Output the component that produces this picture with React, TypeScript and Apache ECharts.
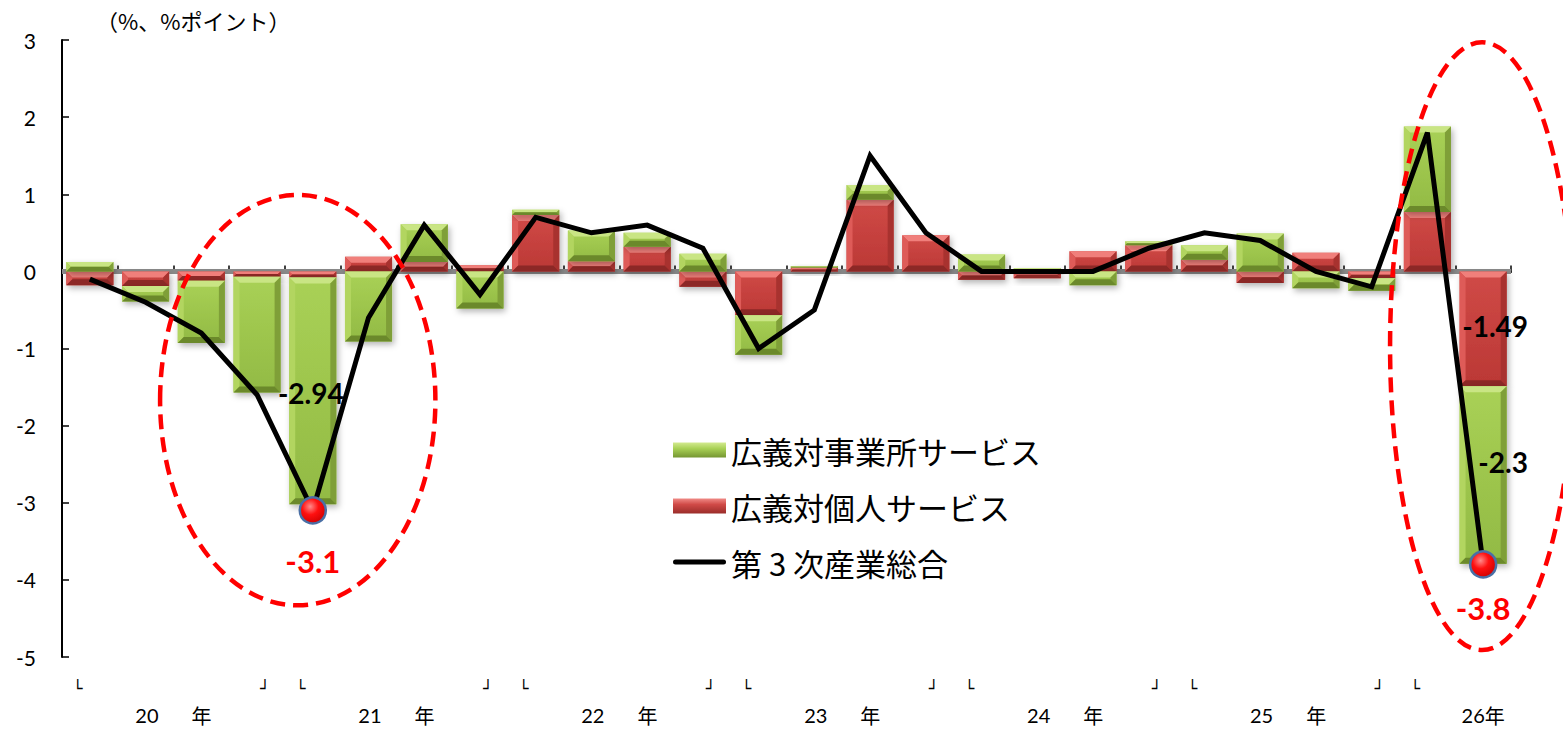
import React, { useEffect, useRef } from "react";
import * as echarts from "echarts";

// ---- data ----
const categories = [
  "20年1-3月", "20年4-6月", "20年7-9月", "20年10-12月",
  "21年1-3月", "21年4-6月", "21年7-9月", "21年10-12月",
  "22年1-3月", "22年4-6月", "22年7-9月", "22年10-12月",
  "23年1-3月", "23年4-6月", "23年7-9月", "23年10-12月",
  "24年1-3月", "24年4-6月", "24年7-9月", "24年10-12月",
  "25年1-3月", "25年4-6月", "25年7-9月", "25年10-12月",
  "26年1-3月", "26年4-6月",
];
const businessServices = [
  0.12, -0.2, -0.81, -1.5, -2.94, -0.91, 0.49, -0.48, 0.07, 0.4, 0.18, 0.23, -0.51,
  0.02, 0.19, 0.0, 0.22, 0.04, -0.18, 0.05, 0.19, 0.49, -0.22, -0.16, 1.11, -2.3,
];
const personalServices = [
  -0.18, -0.19, -0.12, -0.07, -0.08, 0.19, 0.12, 0.08, 0.73, 0.13, 0.32, -0.2, -0.57,
  0.05, 0.93, 0.47, -0.11, -0.09, 0.26, 0.34, 0.15, -0.15, 0.24, -0.09, 0.77, -1.49,
];
const tertiaryTotal = [
  -0.1, -0.4, -0.8, -1.6, -3.1, -0.6, 0.6, -0.3, 0.7, 0.5, 0.6, 0.3, -1.0,
  -0.5, 1.5, 0.5, 0.0, 0.0, 0.0, 0.3, 0.5, 0.4, 0.0, -0.2, 1.8, -3.8,
];
const seriesNames = ["広義対事業所サービス", "広義対個人サービス", "第 3 次産業総合"];
const yTicks = { min: -5, max: 3, interval: 1 };
const unitLabel = "（%、%ポイント）";
// labelled points
const businessLabelIdx = [4, 25];
const personalLabelIdx = [25];
const totalLabelIdx = [4, 25];
// annotation ellipses in data units (x on 0..26 scale)
const ellipses = [
  { cx: 4.23, cy: -1.67, rx: 2.47, ry: 2.66 },
  { cx: 25.48, cy: -0.97, rx: 1.65, ry: 3.94 },
];

const FONT = "Lato, 'Noto Sans CJK JP', sans-serif";
const CJK = "'Noto Sans CJK JP', Lato, sans-serif";

const greenPal = {
  top: "#c9e584", left: "#b2d560", right: "#7f9f38", bottom: "#6b892b",
  mainTop: "#a9d156", mainBottom: "#92ba44",
};
const redPal = {
  top: "#f07f7b", left: "#de5b58", right: "#a8322f", bottom: "#8c2826",
  mainTop: "#d04a47", mainBottom: "#bb3835",
};

const labelOffsets: Record<string, [number, number]> = {
  "g4": [-2, 2],
  "g25": [20, -13],
  "r25": [12, -3],
};

function makeRender(pal: any, labelIdx: number[], key: string) {
  return (params: any, api: any) => {
    const i = api.value(0);
    const v = api.value(1);
    const base = api.value(2);
    if (!v) return null;
    const a = api.coord([i, base]);
    const b = api.coord([i, base + v]);
    const bw = api.size([1, 0])[0] * 0.845;
    const x = a[0] - bw / 2;
    const y = Math.min(a[1], b[1]);
    const h = Math.abs(a[1] - b[1]);
    const e = Math.min(6, h / 2, bw / 2);
    const children: any[] = [
      {
        type: "rect",
        shape: { x, y, width: bw, height: h },
        style: {
          fill: new echarts.graphic.LinearGradient(0, 0, 0, 1, [
            { offset: 0, color: pal.mainTop },
            { offset: 1, color: pal.mainBottom },
          ]),
          shadowBlur: 6,
          shadowOffsetX: 2,
          shadowOffsetY: 3,
          shadowColor: "rgba(0,0,0,0.3)",
        },
      },
      { type: "polygon", shape: { points: [[x, y], [x + bw, y], [x + bw - e, y + e], [x + e, y + e]] }, style: { fill: pal.top } },
      { type: "polygon", shape: { points: [[x, y], [x + e, y + e], [x + e, y + h - e], [x, y + h]] }, style: { fill: pal.left } },
      { type: "polygon", shape: { points: [[x + bw, y], [x + bw, y + h], [x + bw - e, y + h - e], [x + bw - e, y + e]] }, style: { fill: pal.right } },
      { type: "polygon", shape: { points: [[x, y + h], [x + e, y + h - e], [x + bw - e, y + h - e], [x + bw, y + h]] }, style: { fill: pal.bottom } },
    ];
    if (labelIdx.includes(i)) {
      const off = labelOffsets[key + i] || [0, 0];
      children.push({
        type: "text",
        x: a[0] + off[0],
        y: (a[1] + b[1]) / 2 + off[1],
        z2: 50,
        style: {
          text: String(v),
          fill: "#000",
          fontSize: 28,
          fontWeight: "bold",
          fontFamily: FONT,
          align: "center",
          verticalAlign: "middle",
        },
      });
    }
    return { type: "group", children };
  };
}

export default function App() {
  const ref = useRef<HTMLDivElement>(null);

  useEffect(() => {
    if (!ref.current) return;
    const chart = echarts.init(ref.current, null, { renderer: "svg" });

    const personalData = personalServices.map((v, i) => [i, v, 0]);
    const businessData = businessServices.map((v, i) => {
      const r = personalServices[i];
      const base = (v >= 0 && r >= 0) || (v < 0 && r < 0) ? r : 0;
      return [i, v, base];
    });

    // year labels for the secondary value axis (0..N)
    const yearGroups: { year: string; first: number; last: number }[] = [];
    categories.forEach((c, i) => {
      const yr = c.split("年")[0];
      const g = yearGroups.find((q) => q.year === yr);
      if (g) g.last = i;
      else yearGroups.push({ year: yr, first: i, last: i });
    });
    const yearAt = yearGroups.map((g) => {
      const full = g.last - g.first + 1 === 4;
      return {
        pos: full ? (g.first + g.last + 1) / 2 : g.last + 0.5,
        text: full ? `{n|${g.year}}{y|年}` : `{n|${g.year}}{y0|年}`,
      };
    });

    const lineData = tertiaryTotal.map((v, i) => {
      if (!totalLabelIdx.includes(i)) return v;
      return {
        value: v,
        symbol: "circle",
        symbolSize: 26,
        itemStyle: {
          color: new echarts.graphic.RadialGradient(0.4, 0.35, 0.7, [
            { offset: 0, color: "#ff8a8a" },
            { offset: 0.45, color: "#ff1010" },
            { offset: 1, color: "#cc0000" },
          ]),
          borderColor: "#4a6fa5",
          borderWidth: 2.5,
        },
        label: {
          show: true,
          position: "bottom",
          distance: i === 4 ? 21 : 14,
          formatter: "{c}",
          color: "#ff0000",
          fontSize: 31,
          fontWeight: "bold",
          fontFamily: FONT,
        },
      };
    });

    const option: any = {
      animation: false,
      backgroundColor: "#ffffff",
      title: {
        text: unitLabel,
        left: 96,
        top: 9,
        padding: 0,
        textStyle: { fontSize: 22, fontWeight: "normal", color: "#000", fontFamily: CJK },
      },
      legend: {
        orient: "vertical",
        left: 673,
        top: 432,
        padding: 0,
        itemWidth: 53,
        itemHeight: 15,
        itemGap: 20,
        selectedMode: false,
        textStyle: { fontSize: 31, lineHeight: 36, color: "#000", fontFamily: CJK },
        data: [
          { name: seriesNames[0], icon: "rect" },
          { name: seriesNames[1], icon: "rect" },
          {
            name: seriesNames[2],
            icon: "path://M2.5,0 H50.5 A2.5,2.5 0 0 1 50.5,5 H2.5 A2.5,2.5 0 0 1 2.5,0 Z",
            itemStyle: { color: "#000", borderWidth: 0 },
          },
        ],
      },
      grid: { left: 62, right: 52, top: 40, bottom: 74 },
      xAxis: [
        {
          type: "category",
          data: categories,
          boundaryGap: true,
          axisLine: { show: true, lineStyle: { color: "#000", width: 2 } },
          axisTick: { show: true, inside: true, length: 6, interval: 0, lineStyle: { color: "#000", width: 1.5 } },
          splitLine: { show: false },
          axisLabel: {
            interval: 0,
            margin: 23,
            formatter: (val: string) => {
              if (val.endsWith("年1-3月")) return "{l|└}";
              if (val.endsWith("10-12月")) return "{r|┘}";
              return "";
            },
            rich: {
              l: { padding: [0, 24, 0, 0], fontSize: 16, fontFamily: "DejaVu Sans", color: "#000" },
              r: { padding: [0, 0, 0, 16], fontSize: 16, fontFamily: "DejaVu Sans", color: "#000" },
            },
          },
        },
        {
          type: "value",
          min: 0,
          max: categories.length,
          interval: 0.5,
          position: "bottom",
          axisLine: { show: false },
          axisTick: { show: false },
          splitLine: { show: false },
          axisLabel: {
            margin: 47,
            showMinLabel: true,
            showMaxLabel: true,
            formatter: (v: number) => {
              const f = yearAt.find((q) => Math.abs(q.pos - v) < 1e-6);
              return f ? f.text : "";
            },
            rich: {
              n: { fontSize: 20, lineHeight: 22, fontFamily: FONT, color: "#000" },
              y: { fontSize: 20, lineHeight: 22, fontFamily: CJK, color: "#000", padding: [0, 0, 0, 33] },
              y0: { fontSize: 20, lineHeight: 22, fontFamily: CJK, color: "#000" },
            },
          },
        },
      ],
      yAxis: {
        type: "value",
        min: yTicks.min,
        max: yTicks.max,
        interval: yTicks.interval,
        axisLine: { show: true, lineStyle: { color: "#000", width: 2 } },
        axisTick: { show: true, inside: true, length: 7, lineStyle: { color: "#000", width: 1.5 } },
        splitLine: { show: false },
        axisLabel: { fontSize: 21, color: "#000", margin: 26, fontFamily: FONT },
      },
      series: [
        {
          name: seriesNames[1],
          type: "custom",
          xAxisIndex: 0,
          yAxisIndex: 0,
          data: personalData,
          encode: { x: 0, y: 1 },
          itemStyle: {
            color: new echarts.graphic.LinearGradient(0, 0, 0, 1, [
              { offset: 0, color: "#f08a86" },
              { offset: 0.4, color: "#d04a47" },
              { offset: 1, color: "#9a2d2a" },
            ]),
          },
          renderItem: makeRender(redPal, personalLabelIdx, "r"),
          z: 2,
        },
        {
          name: seriesNames[0],
          type: "custom",
          xAxisIndex: 0,
          yAxisIndex: 0,
          data: businessData,
          encode: { x: 0, y: 1 },
          itemStyle: {
            color: new echarts.graphic.LinearGradient(0, 0, 0, 1, [
              { offset: 0, color: "#d3ea90" },
              { offset: 0.4, color: "#a9d156" },
              { offset: 1, color: "#759632" },
            ]),
          },
          renderItem: makeRender(greenPal, businessLabelIdx, "g"),
          z: 2,
        },
        {
          name: seriesNames[2],
          type: "line",
          xAxisIndex: 0,
          yAxisIndex: 0,
          data: lineData,
          symbol: "none",
          lineStyle: { color: "#000", width: 5, join: "miter" },
          itemStyle: { color: "#000" },
          z: 5,
          markLine: {
            silent: true,
            symbol: "none",
            label: { show: false },
            lineStyle: { color: "#8a8a8a", width: 5, type: "solid" },
            data: [{ yAxis: 0 }],
            z: 1,
          },
        },
      ],
    };

    chart.setOption(option);

    const px = (x: number, y: number) => [
      chart.convertToPixel({ xAxisIndex: 1 } as any, x) as number,
      chart.convertToPixel({ yAxisIndex: 0 } as any, y) as number,
    ];
    const graphic = ellipses.map((e) => {
      const c = px(e.cx, e.cy);
      const rx = Math.abs(px(e.cx + e.rx, e.cy)[0] - c[0]);
      const ry = Math.abs(px(e.cx, e.cy + e.ry)[1] - c[1]);
      return {
        type: "ellipse",
        silent: true,
        z: 100,
        shape: { cx: c[0], cy: c[1], rx, ry },
        style: { fill: "none", stroke: "#ff0000", lineWidth: 4.5, lineDash: [15, 8] },
      };
    });
    chart.setOption({ graphic });

    return () => chart.dispose();
  }, []);

  return (
    <div
      ref={ref}
      style={{ position: "absolute", left: 0, top: 0, width: 1563, height: 731, background: "#fff" }}
    />
  );
}
